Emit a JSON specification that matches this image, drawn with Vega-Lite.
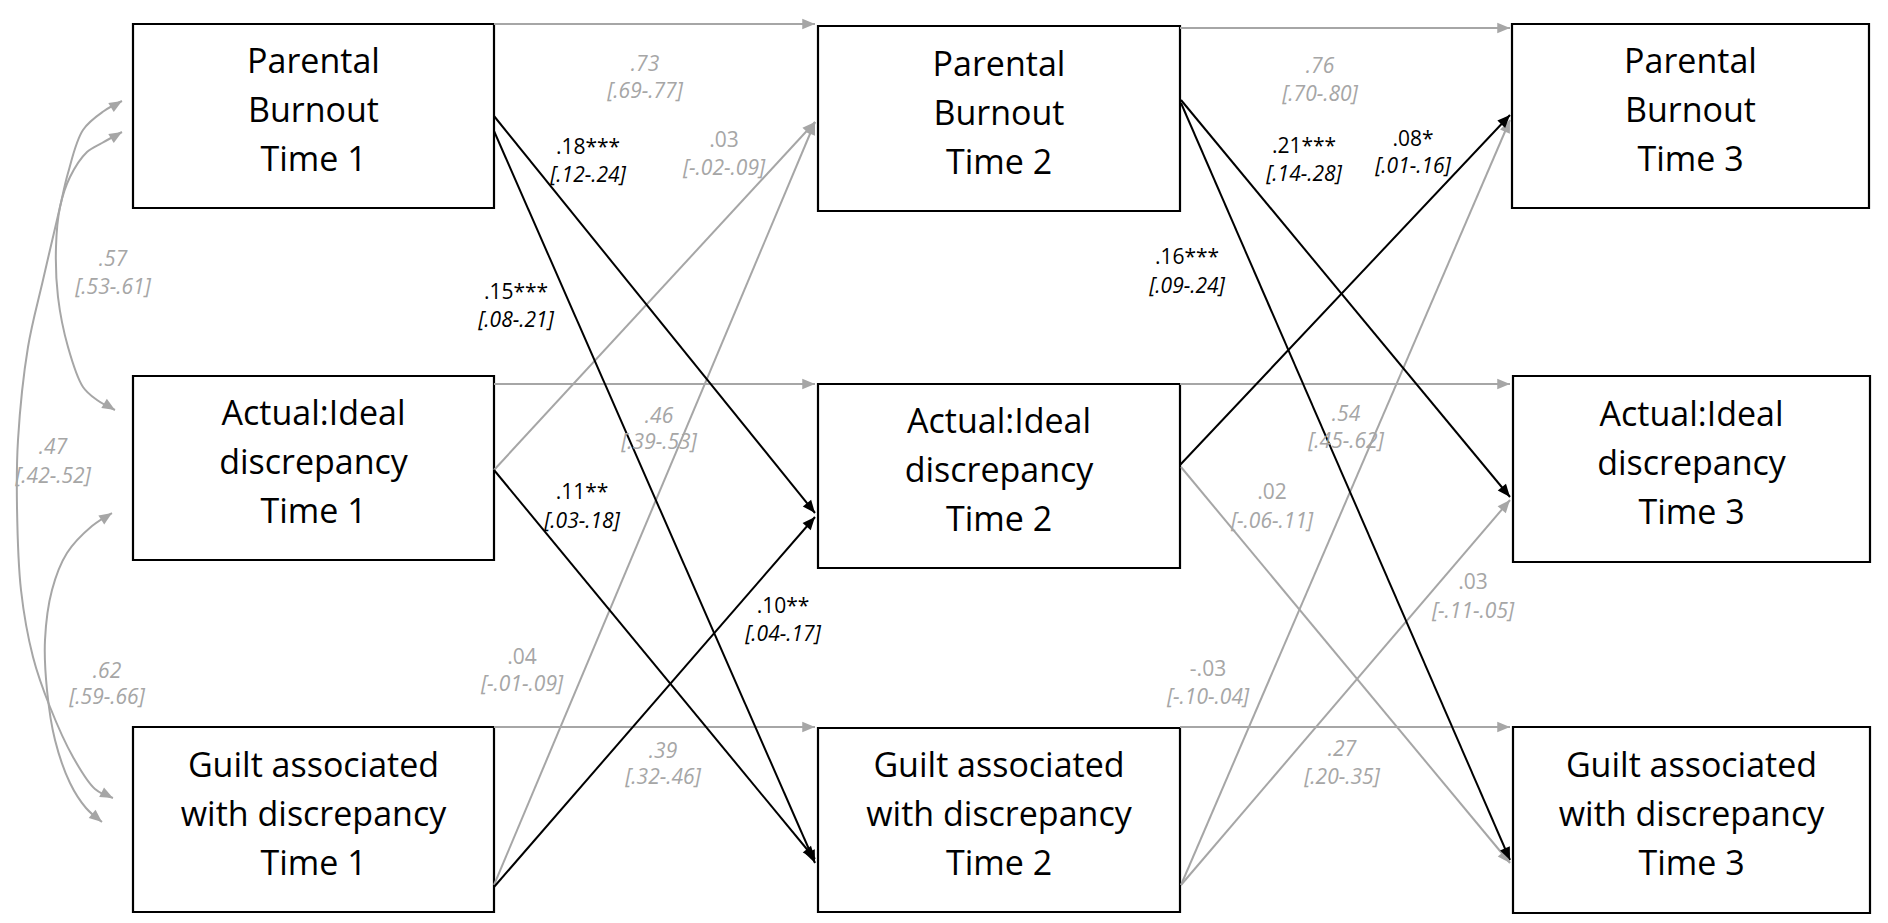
{
  "$schema": "https://vega.github.io/schema/vega-lite/v6.json",
  "width": 1888,
  "height": 923,
  "padding": 0,
  "autosize": {"type": "none"},
  "background": "#ffffff",
  "config": {"view": {"stroke": null}},
  "datasets": {
    "nodes": [
      {"id": "PB1", "label": "Parental\nBurnout\nTime 1", "x": 133, "x2": 494, "y": 24, "y2": 208},
      {"id": "AI1", "label": "Actual:Ideal\ndiscrepancy\nTime 1", "x": 133, "x2": 494, "y": 376, "y2": 560},
      {"id": "G1", "label": "Guilt associated\nwith discrepancy\nTime 1", "x": 133, "x2": 494, "y": 727, "y2": 912},
      {"id": "PB2", "label": "Parental\nBurnout\nTime 2", "x": 818, "x2": 1180, "y": 26, "y2": 211},
      {"id": "AI2", "label": "Actual:Ideal\ndiscrepancy\nTime 2", "x": 818, "x2": 1180, "y": 384, "y2": 568},
      {"id": "G2", "label": "Guilt associated\nwith discrepancy\nTime 2", "x": 818, "x2": 1180, "y": 728, "y2": 912},
      {"id": "PB3", "label": "Parental\nBurnout\nTime 3", "x": 1512, "x2": 1869, "y": 24, "y2": 208},
      {"id": "AI3", "label": "Actual:Ideal\ndiscrepancy\nTime 3", "x": 1513, "x2": 1870, "y": 376, "y2": 562},
      {"id": "G3", "label": "Guilt associated\nwith discrepancy\nTime 3", "x": 1513, "x2": 1870, "y": 727, "y2": 913}
    ],
    "edges": [
      {"from": "PB1", "to": "PB2", "tone": "grey", "x": 494, "y": 24, "x2": 815, "y2": 24},
      {"from": "AI1", "to": "AI2", "tone": "grey", "x": 494, "y": 384, "x2": 815, "y2": 384},
      {"from": "G1", "to": "G2", "tone": "grey", "x": 494, "y": 727, "x2": 815, "y2": 727},
      {"from": "PB2", "to": "PB3", "tone": "grey", "x": 1180, "y": 28, "x2": 1510, "y2": 28},
      {"from": "AI2", "to": "AI3", "tone": "grey", "x": 1180, "y": 384, "x2": 1510, "y2": 384},
      {"from": "G2", "to": "G3", "tone": "grey", "x": 1180, "y": 727, "x2": 1510, "y2": 727},
      {"from": "AI1", "to": "PB2", "tone": "grey", "x": 494, "y": 470, "x2": 815, "y2": 122},
      {"from": "G1", "to": "PB2", "tone": "grey", "x": 494, "y": 885, "x2": 815, "y2": 122},
      {"from": "AI2", "to": "G3", "tone": "grey", "x": 1181, "y": 467, "x2": 1510, "y2": 863},
      {"from": "G2", "to": "PB3", "tone": "grey", "x": 1181, "y": 885, "x2": 1510, "y2": 120},
      {"from": "G2", "to": "AI3", "tone": "grey", "x": 1181, "y": 885, "x2": 1510, "y2": 500},
      {"from": "PB1", "to": "AI2", "tone": "black", "x": 494, "y": 116, "x2": 815, "y2": 513},
      {"from": "PB1", "to": "G2", "tone": "black", "x": 494, "y": 131, "x2": 815, "y2": 863},
      {"from": "AI1", "to": "G2", "tone": "black", "x": 494, "y": 470, "x2": 815, "y2": 859},
      {"from": "G1", "to": "AI2", "tone": "black", "x": 494, "y": 887, "x2": 815, "y2": 517},
      {"from": "PB2", "to": "AI3", "tone": "black", "x": 1181, "y": 100, "x2": 1510, "y2": 497},
      {"from": "PB2", "to": "G3", "tone": "black", "x": 1181, "y": 103, "x2": 1510, "y2": 860},
      {"from": "AI2", "to": "PB3", "tone": "black", "x": 1180, "y": 465, "x2": 1510, "y2": 115}
    ],
    "curves": [
      {"cid": "c47", "ord": 1, "x": 122, "y": 101},
      {"cid": "c47", "ord": 2, "x": 104, "y": 111},
      {"cid": "c47", "ord": 3, "x": 83, "y": 130},
      {"cid": "c47", "ord": 4, "x": 68, "y": 173},
      {"cid": "c47", "ord": 5, "x": 60, "y": 207},
      {"cid": "c47", "ord": 6, "x": 43, "y": 280},
      {"cid": "c47", "ord": 7, "x": 28, "y": 347},
      {"cid": "c47", "ord": 8, "x": 18, "y": 440},
      {"cid": "c47", "ord": 9, "x": 17, "y": 507},
      {"cid": "c47", "ord": 10, "x": 21, "y": 590},
      {"cid": "c47", "ord": 11, "x": 33, "y": 657},
      {"cid": "c47", "ord": 12, "x": 50, "y": 707},
      {"cid": "c47", "ord": 13, "x": 73, "y": 757},
      {"cid": "c47", "ord": 14, "x": 95, "y": 789},
      {"cid": "c47", "ord": 15, "x": 113, "y": 798},
      {"cid": "c57", "ord": 1, "x": 122, "y": 132},
      {"cid": "c57", "ord": 2, "x": 102, "y": 143},
      {"cid": "c57", "ord": 3, "x": 87, "y": 152},
      {"cid": "c57", "ord": 4, "x": 70, "y": 177},
      {"cid": "c57", "ord": 5, "x": 60, "y": 207},
      {"cid": "c57", "ord": 6, "x": 56, "y": 247},
      {"cid": "c57", "ord": 7, "x": 58, "y": 297},
      {"cid": "c57", "ord": 8, "x": 68, "y": 347},
      {"cid": "c57", "ord": 9, "x": 83, "y": 387},
      {"cid": "c57", "ord": 10, "x": 97, "y": 400},
      {"cid": "c57", "ord": 11, "x": 115, "y": 410},
      {"cid": "c62", "ord": 1, "x": 112, "y": 513},
      {"cid": "c62", "ord": 2, "x": 92, "y": 526},
      {"cid": "c62", "ord": 3, "x": 67, "y": 553},
      {"cid": "c62", "ord": 4, "x": 52, "y": 590},
      {"cid": "c62", "ord": 5, "x": 45, "y": 640},
      {"cid": "c62", "ord": 6, "x": 47, "y": 690},
      {"cid": "c62", "ord": 7, "x": 55, "y": 740},
      {"cid": "c62", "ord": 8, "x": 70, "y": 783},
      {"cid": "c62", "ord": 9, "x": 86, "y": 808},
      {"cid": "c62", "ord": 10, "x": 102, "y": 822}
    ],
    "curveHeads": [
      {"cid": "c47", "x": 100, "y": 114, "x2": 122, "y2": 101},
      {"cid": "c47", "x": 95, "y": 789, "x2": 113, "y2": 798},
      {"cid": "c57", "x": 100, "y": 145, "x2": 122, "y2": 132},
      {"cid": "c57", "x": 95, "y": 398, "x2": 115, "y2": 410},
      {"cid": "c62", "x": 92, "y": 526, "x2": 112, "y2": 513},
      {"cid": "c62", "x": 85, "y": 808, "x2": 102, "y2": 822}
    ],
    "labels": [
      {"est": ".73", "ci": "[.69-.77]", "tone": "grey", "style": "italic", "x": 645, "ya": 65, "yb": 92},
      {"est": ".03", "ci": "[-.02-.09]", "tone": "grey", "style": "normal", "x": 724, "ya": 141, "yb": 169},
      {"est": ".18***", "ci": "[.12-.24]", "tone": "black", "style": "normal", "x": 588, "ya": 148, "yb": 176},
      {"est": ".15***", "ci": "[.08-.21]", "tone": "black", "style": "normal", "x": 516, "ya": 293, "yb": 321},
      {"est": ".46", "ci": "[.39-.53]", "tone": "grey", "style": "italic", "x": 659, "ya": 417, "yb": 443},
      {"est": ".11**", "ci": "[.03-.18]", "tone": "black", "style": "normal", "x": 582, "ya": 493, "yb": 522},
      {"est": ".04", "ci": "[-.01-.09]", "tone": "grey", "style": "normal", "x": 522, "ya": 658, "yb": 685},
      {"est": ".10**", "ci": "[.04-.17]", "tone": "black", "style": "normal", "x": 783, "ya": 607, "yb": 635},
      {"est": ".39", "ci": "[.32-.46]", "tone": "grey", "style": "italic", "x": 663, "ya": 752, "yb": 778},
      {"est": ".76", "ci": "[.70-.80]", "tone": "grey", "style": "italic", "x": 1320, "ya": 67, "yb": 95},
      {"est": ".21***", "ci": "[.14-.28]", "tone": "black", "style": "normal", "x": 1304, "ya": 147, "yb": 175},
      {"est": ".08*", "ci": "[.01-.16]", "tone": "black", "style": "normal", "x": 1413, "ya": 140, "yb": 167},
      {"est": ".16***", "ci": "[.09-.24]", "tone": "black", "style": "normal", "x": 1187, "ya": 258, "yb": 287},
      {"est": ".54", "ci": "[.45-.62]", "tone": "grey", "style": "italic", "x": 1346, "ya": 415, "yb": 442},
      {"est": ".02", "ci": "[-.06-.11]", "tone": "grey", "style": "normal", "x": 1272, "ya": 493, "yb": 522},
      {"est": ".03", "ci": "[-.11-.05]", "tone": "grey", "style": "normal", "x": 1473, "ya": 583, "yb": 612},
      {"est": "-.03", "ci": "[-.10-.04]", "tone": "grey", "style": "normal", "x": 1208, "ya": 670, "yb": 698},
      {"est": ".27", "ci": "[.20-.35]", "tone": "grey", "style": "italic", "x": 1342, "ya": 750, "yb": 778},
      {"est": ".57", "ci": "[.53-.61]", "tone": "grey", "style": "italic", "x": 113, "ya": 260, "yb": 288},
      {"est": ".47", "ci": "[.42-.52]", "tone": "grey", "style": "italic", "x": 53, "ya": 448, "yb": 477},
      {"est": ".62", "ci": "[.59-.66]", "tone": "grey", "style": "italic", "x": 107, "ya": 672, "yb": 698}
    ]
  },
  "layer": [
    {
      "data": {"name": "nodes"},
      "mark": {"type": "rect", "fill": "#ffffff", "stroke": "#000000", "strokeWidth": 2.2},
      "encoding": {
        "x": {"field": "x", "type": "quantitative", "scale": {"domain": [0, 1888], "nice": false, "zero": false}, "axis": null},
        "x2": {"field": "x2"},
        "y": {"field": "y", "type": "quantitative", "scale": {"domain": [0, 923], "nice": false, "zero": false, "reverse": true}, "axis": null},
        "y2": {"field": "y2"}
      }
    },
    {
      "data": {"name": "curves"},
      "mark": {"type": "line", "interpolate": "catmull-rom", "color": "#a6a6a6", "strokeWidth": 2},
      "encoding": {
        "x": {"field": "x", "type": "quantitative", "scale": {"domain": [0, 1888], "nice": false, "zero": false}, "axis": null},
        "y": {"field": "y", "type": "quantitative", "scale": {"domain": [0, 923], "nice": false, "zero": false, "reverse": true}, "axis": null},
        "detail": {"field": "cid"},
        "order": {"field": "ord", "type": "quantitative"}
      }
    },
    {
      "data": {"name": "edges"},
      "mark": {"type": "rule", "strokeWidth": 2},
      "encoding": {
        "x": {"field": "x", "type": "quantitative", "scale": {"domain": [0, 1888], "nice": false, "zero": false}, "axis": null},
        "x2": {"field": "x2"},
        "y": {"field": "y", "type": "quantitative", "scale": {"domain": [0, 923], "nice": false, "zero": false, "reverse": true}, "axis": null},
        "y2": {"field": "y2"},
        "color": {"field": "tone", "type": "nominal", "scale": {"domain": ["black", "grey"], "range": ["#000000", "#a6a6a6"]}, "legend": null}
      }
    },
    {
      "data": {"name": "edges"},
      "transform": [{"calculate": "atan2(datum.y2 - datum.y, datum.x2 - datum.x) * 180 / PI", "as": "ang"}],
      "mark": {"type": "point", "shape": "M0,0L-1,-0.42L-1,0.42Z", "filled": true, "size": 650, "opacity": 1, "strokeWidth": 0},
      "encoding": {
        "x": {"field": "x2", "type": "quantitative", "scale": {"domain": [0, 1888], "nice": false, "zero": false}, "axis": null},
        "y": {"field": "y2", "type": "quantitative", "scale": {"domain": [0, 923], "nice": false, "zero": false, "reverse": true}, "axis": null},
        "angle": {"field": "ang", "type": "quantitative", "scale": null},
        "color": {"field": "tone", "type": "nominal", "scale": {"domain": ["black", "grey"], "range": ["#000000", "#a6a6a6"]}, "legend": null}
      }
    },
    {
      "data": {"name": "curveHeads"},
      "transform": [{"calculate": "atan2(datum.y2 - datum.y, datum.x2 - datum.x) * 180 / PI", "as": "ang"}],
      "mark": {"type": "point", "shape": "M0,0L-1,-0.42L-1,0.42Z", "filled": true, "size": 650, "opacity": 1, "strokeWidth": 0, "color": "#a6a6a6"},
      "encoding": {
        "x": {"field": "x2", "type": "quantitative", "scale": {"domain": [0, 1888], "nice": false, "zero": false}, "axis": null},
        "y": {"field": "y2", "type": "quantitative", "scale": {"domain": [0, 923], "nice": false, "zero": false, "reverse": true}, "axis": null},
        "angle": {"field": "ang", "type": "quantitative", "scale": null}
      }
    },
    {
      "data": {"name": "nodes"},
      "transform": [
        {"calculate": "(datum.x + datum.x2) / 2", "as": "cx"},
        {"calculate": "(datum.y + datum.y2) / 2 - 53", "as": "cy"}
      ],
      "mark": {"type": "text", "font": "Open Sans", "fontSize": 34, "lineBreak": "\n", "lineHeight": 49, "align": "center", "baseline": "middle", "color": "#000000"},
      "encoding": {
        "x": {"field": "cx", "type": "quantitative", "scale": {"domain": [0, 1888], "nice": false, "zero": false}, "axis": null},
        "y": {"field": "cy", "type": "quantitative", "scale": {"domain": [0, 923], "nice": false, "zero": false, "reverse": true}, "axis": null},
        "text": {"field": "label"}
      }
    },
    {
      "data": {"name": "labels"},
      "transform": [{"filter": "datum.style == 'italic'"}],
      "mark": {"type": "text", "font": "Open Sans", "fontSize": 21, "fontStyle": "italic", "align": "center", "baseline": "middle"},
      "encoding": {
        "x": {"field": "x", "type": "quantitative", "scale": {"domain": [0, 1888], "nice": false, "zero": false}, "axis": null},
        "y": {"field": "ya", "type": "quantitative", "scale": {"domain": [0, 923], "nice": false, "zero": false, "reverse": true}, "axis": null},
        "text": {"field": "est"},
        "color": {"field": "tone", "type": "nominal", "scale": {"domain": ["black", "grey"], "range": ["#000000", "#a6a6a6"]}, "legend": null}
      }
    },
    {
      "data": {"name": "labels"},
      "transform": [{"filter": "datum.style == 'normal'"}],
      "mark": {"type": "text", "font": "Open Sans", "fontSize": 21, "align": "center", "baseline": "middle"},
      "encoding": {
        "x": {"field": "x", "type": "quantitative", "scale": {"domain": [0, 1888], "nice": false, "zero": false}, "axis": null},
        "y": {"field": "ya", "type": "quantitative", "scale": {"domain": [0, 923], "nice": false, "zero": false, "reverse": true}, "axis": null},
        "text": {"field": "est"},
        "color": {"field": "tone", "type": "nominal", "scale": {"domain": ["black", "grey"], "range": ["#000000", "#a6a6a6"]}, "legend": null}
      }
    },
    {
      "data": {"name": "labels"},
      "mark": {"type": "text", "font": "Open Sans", "fontSize": 21, "fontStyle": "italic", "align": "center", "baseline": "middle"},
      "encoding": {
        "x": {"field": "x", "type": "quantitative", "scale": {"domain": [0, 1888], "nice": false, "zero": false}, "axis": null},
        "y": {"field": "yb", "type": "quantitative", "scale": {"domain": [0, 923], "nice": false, "zero": false, "reverse": true}, "axis": null},
        "text": {"field": "ci"},
        "color": {"field": "tone", "type": "nominal", "scale": {"domain": ["black", "grey"], "range": ["#000000", "#a6a6a6"]}, "legend": null}
      }
    }
  ]
}
